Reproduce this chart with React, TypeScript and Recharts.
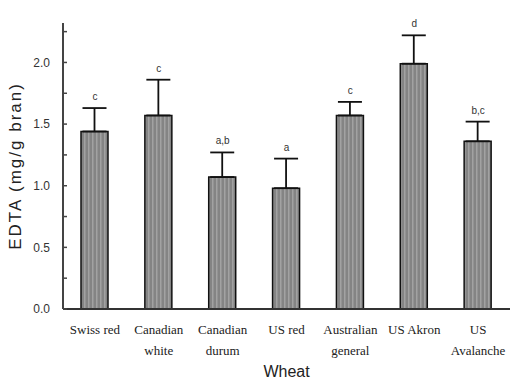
import React from "react";
import {
  ComposedChart,
  Bar,
  Line,
  XAxis,
  YAxis,
  ErrorBar,
  LabelList,
} from "recharts";

const wheats = [
  "Swiss red",
  "Canadian\nwhite",
  "Canadian\ndurum",
  "US red",
  "Australian\ngeneral",
  "US Akron",
  "US\nAvalanche",
];
const edta = [1.44, 1.57, 1.07, 0.98, 1.57, 1.99, 1.36];
const sd = [0.19, 0.29, 0.2, 0.24, 0.11, 0.23, 0.16];
const letters = ["c", "c", "a,b", "a", "c", "d", "b,c"];
const yTicks = [0, 0.25, 0.5, 0.75, 1.0, 1.25, 1.5, 1.75, 2.0, 2.25];

const data = wheats.map((w, i) => ({
  wheat: w,
  edta: edta[i],
  err: [0, sd[i]],
  top: edta[i] + sd[i],
  letter: letters[i],
}));

const WheatTick = (props: any) => {
  const { x, y, payload } = props;
  const lines = String(payload.value).split("\n");
  return (
    <text
      x={x}
      y={y + 17}
      textAnchor="middle"
      fontFamily="Liberation Serif"
      fontSize={13}
      fill="#222"
    >
      {lines.map((l, i) => (
        <tspan key={i} x={x} dy={i === 0 ? 0 : 21}>
          {l}
        </tspan>
      ))}
    </text>
  );
};

const LetterLabel = (props: any) => {
  const { x, y, value } = props;
  return (
    <text
      x={x}
      y={y - 8}
      textAnchor="middle"
      fontFamily="Liberation Sans"
      fontSize={10}
      fill="#333"
    >
      {value}
    </text>
  );
};

export default function App() {
  return (
    <div style={{ position: "absolute", left: 0, top: 0 }}>
      <ComposedChart
        width={511}
        height={381}
        data={data}
        margin={{ top: 23, right: 1, bottom: 0, left: 0 }}
      >
        <defs>
          <pattern id="stripes" width="4" height="4" patternUnits="userSpaceOnUse">
            <rect width="4" height="4" fill="#848484" />
            <rect width="1.5" height="4" fill="#a2a2a2" />
          </pattern>
        </defs>
        <XAxis
          dataKey="wheat"
          height={72}
          tickLine={false}
          axisLine={{ stroke: "#333", strokeWidth: 2 }}
          tick={<WheatTick />}
          interval={0}
          label={{
            value: "Wheat",
            position: "insideBottom",
            offset: 0,
            dy: -4,
            style: { fontFamily: "Liberation Sans", fontSize: 16, fill: "#222" },
          }}
        />
        <YAxis
          width={63}
          domain={[0, 2.32]}
          ticks={yTicks}
          interval={0}
          tickSize={4}
          tickLine={{ stroke: "#444", strokeWidth: 1.5, transform: "translate(4,0)" }}
          axisLine={{ stroke: "#444", strokeWidth: 2 }}
          tickFormatter={(v: number) => (Math.abs((v * 2) % 1) < 1e-6 ? v.toFixed(1) : "")}
          tick={{ fontFamily: "Liberation Sans", fontSize: 12, fill: "#333" }}
          tickMargin={9}
          label={{
            value: "EDTA (mg/g bran)",
            angle: -90,
            position: "insideLeft",
            dx: 10,
            dy: 0,
            style: {
              fontFamily: "Liberation Sans",
              fontSize: 17,
              letterSpacing: 2,
              fill: "#222",
              textAnchor: "middle",
            },
          }}
        />
        <Bar
          dataKey="edta"
          barSize={27}
          fill="url(#stripes)"
          stroke="#111"
          strokeWidth={1.5}
          isAnimationActive={false}
        >
          <ErrorBar
            dataKey="err"
            direction="y"
            width={12}
            stroke="#111"
            strokeWidth={1.8}
            isAnimationActive={false}
          />
        </Bar>
        <Line
          dataKey="top"
          stroke="none"
          dot={false}
          activeDot={false}
          isAnimationActive={false}
        >
          <LabelList dataKey="letter" content={<LetterLabel />} />
        </Line>
      </ComposedChart>
    </div>
  );
}
